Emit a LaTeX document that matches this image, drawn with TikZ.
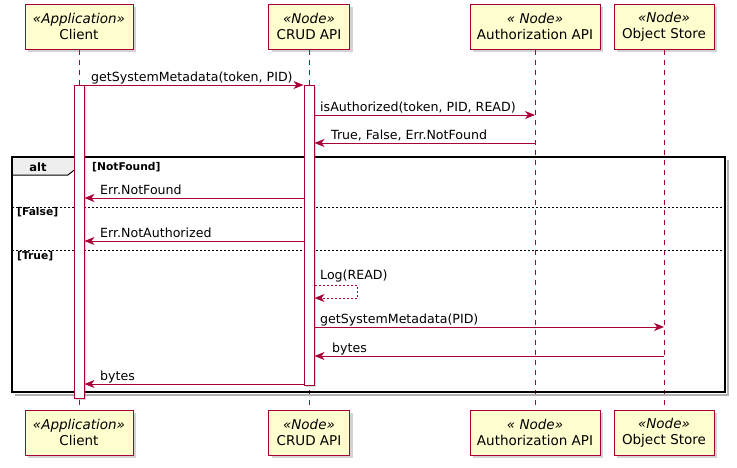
\documentclass[tikz,border=0pt]{standalone}
\usepackage{fontspec}
\setmainfont{DejaVu Sans}
\usetikzlibrary{arrows.meta,shadows}
\definecolor{umlred}{HTML}{A80036}
\definecolor{umlyellow}{HTML}{FEFECE}
\definecolor{tabgray}{HTML}{EEEEEE}
\tikzset{
  participant/.style={draw=umlred, fill=umlyellow, line width=1pt, align=center,
    font=\fontsize{13.5}{16}\selectfont, minimum height=45pt, inner sep=2pt,
    drop shadow={shadow xshift=3pt, shadow yshift=-3pt, opacity=0.35}},
  lifeline/.style={umlred, line width=0.8pt, dash pattern=on 5pt off 5pt},
  activation/.style={draw=umlred, fill=white, line width=1pt, minimum width=10pt, inner sep=0pt,
    drop shadow={shadow xshift=2pt, shadow yshift=-2pt, opacity=0.3}},
  msg/.style={umlred, line width=0.9pt, -{Stealth[length=10pt, width=8pt, inset=3pt]}},
  selfmsg/.style={msg, dash pattern=on 2pt off 2pt},
  msglabel/.style={font=\fontsize{12.6}{15}\selectfont, anchor=base west, inner sep=0pt},
  guard/.style={font=\bfseries\fontsize{10.7}{13}\selectfont, anchor=base west, inner sep=0pt},
  separator/.style={black, line width=0.8pt, dash pattern=on 2pt off 2pt},
}
\begin{document}
\begin{tikzpicture}[x=1pt, y=-1pt]
  \useasboundingbox (0,0) rectangle (737,467);
  % participants, top and bottom
  \node[participant, minimum width=108pt] (client) at (79,26.5) {\textit{«Application»}\\Client};
  \node[participant, minimum width=81pt] (crud) at (309,26.5) {\textit{«Node»}\\CRUD API};
  \node[participant, minimum width=130pt] (auth) at (535,26.5) {\textit{« Node»}\\Authorization API};
  \node[participant, minimum width=100pt] (store) at (664,26.5) {\textit{«Node»}\\Object Store};
  \node[participant, minimum width=108pt] (client2) at (79,432.5) {\textit{«Application»}\\Client};
  \node[participant, minimum width=81pt] (crud2) at (309,432.5) {\textit{«Node»}\\CRUD API};
  \node[participant, minimum width=130pt] (auth2) at (535,432.5) {\textit{« Node»}\\Authorization API};
  \node[participant, minimum width=100pt] (store2) at (664,432.5) {\textit{«Node»}\\Object Store};
  % lifelines
  \draw[lifeline] (client.south) -- (client2.north);
  \draw[lifeline] (crud.south) -- (crud2.north);
  \draw[lifeline] (auth.south) -- (auth2.north);
  \draw[lifeline] (store.south) -- (store2.north);
  % alt frame
  \draw[black!30, line width=2.5pt] (728,160) -- (728,395) -- (15,395);
  \draw[line width=1pt, fill=tabgray] (12,157) -- (78,157) -- (78,167) -- (68,175) -- (12,175) -- cycle;
  \draw[line width=1.5pt] (12,157) rectangle (725,392);
  \node[font=\bfseries\fontsize{11.5}{13}\selectfont, anchor=base, inner sep=0pt] (alt) at (38,171) {alt};
  \node[guard] (gnotfound) at (92,170) {[NotFound]};
  \draw[separator] (12,207) -- (725,207);
  \node[guard] (gfalse) at (17,215) {[False]};
  \draw[separator] (12,250) -- (725,250);
  \node[guard] (gtrue) at (17,259) {[True]};
  % activations
  \node[activation, minimum height=313pt] (clientact) at (79,241.5) {};
  \node[activation, minimum height=300pt] (crudact) at (309,235) {};
  % message rows
  \coordinate (y1) at (0,85);
  \coordinate (y2) at (0,115);
  \coordinate (y3) at (0,143);
  \coordinate (y4) at (0,198);
  \coordinate (y5) at (0,241);
  \coordinate (y6) at (0,285);
  \coordinate (y6b) at (0,298);
  \coordinate (y7) at (0,327);
  \coordinate (y8) at (0,356);
  \coordinate (y9) at (0,384);
  \coordinate (loop) at (357,0);
  \node[msglabel] (l1) at (91,81) {getSystemMetadata(token, PID)};
  \node[msglabel] (l2) at (320,111) {isAuthorized(token, PID, READ)};
  \node[msglabel] (l3) at (331,139) {True, False, Err.NotFound};
  \node[msglabel] (l4) at (100,194) {Err.NotFound};
  \node[msglabel] (l5) at (100,237) {Err.NotAuthorized};
  \node[msglabel] (l6) at (320,279) {Log(READ)};
  \node[msglabel] (l7) at (320,323) {getSystemMetadata(PID)};
  \node[msglabel] (l8) at (332,352) {bytes};
  \node[msglabel] (l9) at (100,380) {bytes};
  \draw[msg] (clientact.east |- y1) -- (crudact.west |- y1);
  \draw[msg] (crudact.east |- y2) -- (auth |- y2);
  \draw[msg] (auth |- y3) -- (crudact.east |- y3);
  \draw[msg] (crudact.west |- y4) -- (clientact.east |- y4);
  \draw[msg] (crudact.west |- y5) -- (clientact.east |- y5);
  \draw[selfmsg] (crudact.east |- y6) -- (loop |- y6) -- (loop |- y6b) -- (crudact.east |- y6b);
  \draw[msg] (crudact.east |- y7) -- (store |- y7);
  \draw[msg] (store |- y8) -- (crudact.east |- y8);
  \draw[msg] (crudact.west |- y9) -- (clientact.east |- y9);
\end{tikzpicture}
\end{document}
